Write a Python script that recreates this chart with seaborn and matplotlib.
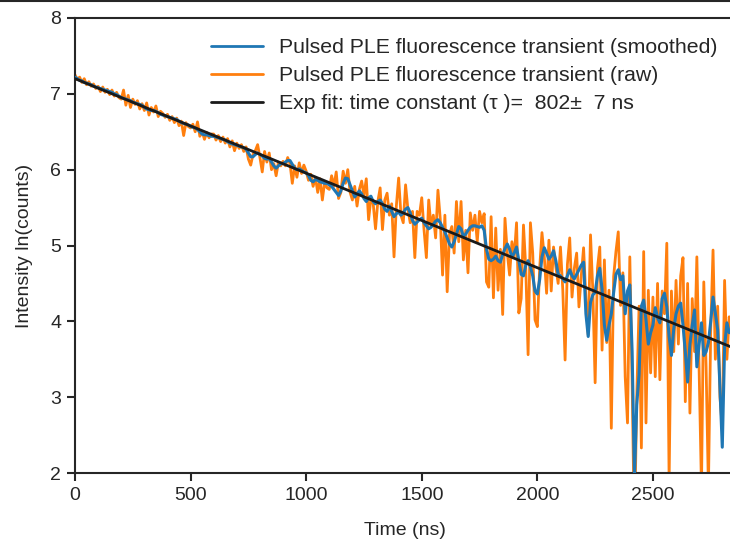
import numpy as np
import pandas as pd
import matplotlib
matplotlib.use("Agg")
import matplotlib.pyplot as plt
from matplotlib.lines import Line2D
import seaborn as sns

# ---- data ----
time_ns = np.arange(0, 2850, 10)

smoothed = [
    7.22, 7.20, 7.18, 7.17, 7.15, 7.14, 7.13, 7.12, 7.10, 7.09,
    7.08, 7.07, 7.06, 7.05, 7.04, 7.03, 7.02, 7.00, 6.99, 6.97,
    6.95, 6.94, 6.93, 6.92, 6.91, 6.89, 6.88, 6.87, 6.86, 6.85,
    6.82, 6.80, 6.79, 6.78, 6.78, 6.77, 6.75, 6.73, 6.72, 6.71,
    6.70, 6.69, 6.68, 6.67, 6.66, 6.64, 6.62, 6.61, 6.60, 6.59,
    6.57, 6.56, 6.55, 6.53, 6.50, 6.47, 6.46, 6.46, 6.45, 6.44,
    6.44, 6.43, 6.42, 6.41, 6.40, 6.39, 6.37, 6.35, 6.34, 6.33,
    6.32, 6.31, 6.30, 6.29, 6.27, 6.22, 6.17, 6.17, 6.20, 6.22,
    6.20, 6.18, 6.15, 6.14, 6.15, 6.10, 6.05, 6.02, 6.05, 6.08,
    6.08, 6.10, 6.12, 6.12, 6.07, 6.02, 6.00, 6.01, 5.99, 5.97,
    5.96, 5.92, 5.86, 5.84, 5.87, 5.86, 5.84, 5.83, 5.82, 5.82,
    5.80, 5.78, 5.74, 5.70, 5.66, 5.72, 5.82, 5.89, 5.88, 5.80,
    5.72, 5.64, 5.68, 5.72, 5.68, 5.62, 5.58, 5.63, 5.65, 5.58,
    5.55, 5.58, 5.60, 5.55, 5.48, 5.45, 5.52, 5.45, 5.38, 5.42,
    5.44, 5.40, 5.43, 5.48, 5.50, 5.43, 5.33, 5.28, 5.31, 5.34,
    5.36, 5.30, 5.26, 5.22, 5.24, 5.28, 5.32, 5.34, 5.30, 5.24,
    5.18, 5.10, 5.02, 4.98, 5.05, 5.15, 5.25, 5.22, 5.12, 5.15,
    5.20, 5.24, 5.26, 5.26, 5.25, 5.24, 5.26, 5.20, 4.95, 4.82,
    4.80, 4.82, 4.86, 4.80, 4.78, 4.88, 4.96, 5.02, 4.95, 4.85,
    4.90, 4.98, 4.80, 4.62, 4.60, 4.74, 4.80, 4.72, 4.60, 4.40,
    4.36, 4.55, 4.85, 4.97, 4.90, 4.82, 4.86, 4.93, 4.80, 4.62,
    4.60, 4.56, 4.52, 4.60, 4.68, 4.60, 4.56, 4.62, 4.68, 4.74,
    4.78, 4.10, 3.80, 4.25, 4.35, 4.38, 4.60, 4.70, 4.42, 3.95,
    3.75, 3.95, 4.10, 4.38, 4.62, 4.68, 4.55, 4.60, 4.10, 4.40,
    4.48, 3.60, 1.95, 2.90, 3.30, 4.20, 4.28, 4.02, 3.70, 3.85,
    3.95, 4.18, 4.05, 3.98, 4.30, 4.37, 4.19, 3.80, 3.55, 3.90,
    4.10, 4.20, 4.24, 3.95, 3.60, 3.20, 3.70, 3.95, 4.15, 3.40,
    3.70, 3.98, 3.55, 3.60, 3.72, 4.00, 4.32, 4.10, 3.89, 3.10,
    2.34, 3.67, 3.98, 3.85, 3.90,
]

raw = [
    7.25, 7.19, 7.22, 7.15, 7.20, 7.12, 7.16, 7.10, 7.13, 7.07,
    7.10, 7.03, 7.09, 7.02, 7.06, 6.99, 7.05, 6.97, 7.02, 6.95,
    6.93, 7.05, 6.85, 6.98, 6.82, 6.93, 6.86, 6.91, 6.80, 6.87,
    6.78, 6.88, 6.72, 6.82, 6.76, 6.84, 6.70, 6.77, 6.74, 6.69,
    6.73, 6.65, 6.70, 6.62, 6.68, 6.58, 6.64, 6.45, 6.62, 6.57,
    6.55, 6.60, 6.50, 6.63, 6.44, 6.50, 6.40, 6.49, 6.42, 6.47,
    6.47, 6.39, 6.45, 6.37, 6.43, 6.35, 6.41, 6.30, 6.38, 6.25,
    6.35, 6.28, 6.33, 6.24, 6.30, 6.14, 6.06, 6.20, 6.25, 6.33,
    6.16, 5.97, 6.24, 6.10, 6.22, 6.00, 6.08, 5.92, 6.10, 6.05,
    6.11, 6.05, 6.16, 6.08, 5.82, 6.05, 5.90, 6.09, 5.95, 6.06,
    5.98, 5.86, 5.94, 5.78, 5.90, 5.70, 5.88, 5.60, 5.84, 5.76,
    5.74, 5.92, 5.78, 5.97, 5.62, 5.70, 5.98, 5.82, 6.00, 5.70,
    5.60, 5.78, 5.52, 5.74, 5.85, 5.66, 5.88, 5.34, 5.62, 5.55,
    5.22, 5.58, 5.76, 5.21, 5.60, 5.69, 5.40, 5.55, 4.85, 5.52,
    5.89, 5.40, 5.30, 5.80, 5.48, 5.30, 5.45, 4.84, 5.45, 5.40,
    5.63, 5.20, 4.84, 5.60, 5.25, 5.40, 5.10, 5.73, 5.35, 4.61,
    5.40, 4.39, 5.15, 5.25, 4.90, 5.58, 5.05, 5.58, 4.81, 5.20,
    4.64, 5.43, 5.20, 5.40, 5.05, 5.45, 5.30, 5.42, 4.52, 4.45,
    5.38, 4.31, 5.23, 4.41, 4.95, 4.09, 5.36, 4.90, 4.61, 5.05,
    4.85, 5.30, 4.11, 4.30, 5.27, 4.70, 3.56, 5.30, 4.90, 4.02,
    3.93, 4.70, 5.17, 4.85, 4.37, 5.07, 4.40, 4.98, 4.72, 4.50,
    4.98, 4.42, 3.49, 4.75, 5.10, 4.32, 4.70, 4.90, 4.19, 4.60,
    4.97, 4.30, 3.82, 5.14, 4.40, 3.19, 4.70, 4.98, 3.62, 4.81,
    3.72, 4.41, 2.59, 4.59, 4.92, 5.18, 4.21, 4.64, 3.27, 2.66,
    4.85, 3.20, 1.20, 3.00, 4.20, 2.33, 4.92, 2.66, 4.41, 3.32,
    4.32, 3.27, 4.50, 3.23, 4.40, 4.10, 5.03, 1.90, 4.40, 3.60,
    4.54, 3.70, 4.60, 4.84, 2.94, 4.50, 2.79, 4.30, 3.60, 4.85,
    3.30, 1.80, 4.52, 3.40, 1.80, 3.90, 4.94, 3.50, 4.20, 3.00,
    2.60, 4.54, 3.50, 4.06, 3.80,
]

fit_time = [0, 2840]
fit_value = [7.20, 3.66]

label_smoothed = "Pulsed PLE fluorescence transient (smoothed)"
label_raw = "Pulsed PLE fluorescence transient (raw)"
label_fit = "Exp fit: time constant (\u03c4 )=  802\u00b1  7 ns"

x_ticks = [0, 500, 1000, 1500, 2000, 2500]
y_ticks = [2, 3, 4, 5, 6, 7, 8]

# ---- style ----
sns.set_theme(style="ticks")
plt.rcParams["font.family"] = ["Liberation Sans", "DejaVu Sans"]
plt.rcParams["axes.edgecolor"] = "#262626"
plt.rcParams["axes.linewidth"] = 1.5

fig = plt.figure(figsize=(7.30, 5.43), dpi=100)
ax = fig.add_axes([75 / 730, 70 / 543, 660 / 730, 455 / 543])

df_raw = pd.DataFrame({"t": time_ns, "v": raw})
df_smooth = pd.DataFrame({"t": time_ns, "v": smoothed})
df_fit = pd.DataFrame({"t": fit_time, "v": fit_value})

sns.lineplot(data=df_raw, x="t", y="v", ax=ax, color="#ff7f0e", lw=2.0,
             estimator=None, sort=False, zorder=2)
sns.lineplot(data=df_smooth, x="t", y="v", ax=ax, color="#1f77b4", lw=2.2,
             estimator=None, sort=False, zorder=3)
sns.lineplot(data=df_fit, x="t", y="v", ax=ax, color="#1a1a1a", lw=2.0,
             estimator=None, sort=False, zorder=4)

ax.set_xlim(0, 2855)
ax.set_ylim(2, 8)
ax.set_xticks(x_ticks)
ax.set_yticks(y_ticks)
ax.tick_params(axis="both", labelsize=14, length=6, width=1.5, color="#262626",
               labelcolor="#262626", direction="out", pad=4)
ax.set_xlabel("Time (ns)", fontsize=14, color="#262626", labelpad=13)
ax.set_ylabel("Intensity ln(counts)", fontsize=14, color="#262626", labelpad=12)

handles = [
    Line2D([0], [0], color="#1f77b4", lw=2.0),
    Line2D([0], [0], color="#ff7f0e", lw=2.0),
    Line2D([0], [0], color="#1a1a1a", lw=2.0),
]
ax.legend(handles, [label_smoothed, label_raw, label_fit], loc="upper right",
          bbox_to_anchor=(1.003, 0.997), frameon=False, fontsize=15.3,
          handlelength=2.45, handletextpad=0.75, labelspacing=0.42,
          labelcolor="#262626")

# thin dark border line at the very top of the picture
fig.add_artist(Line2D([0, 1], [0.998, 0.998], transform=fig.transFigure,
                      color="#262626", lw=1.5))

fig.savefig("out.png", dpi=100)
